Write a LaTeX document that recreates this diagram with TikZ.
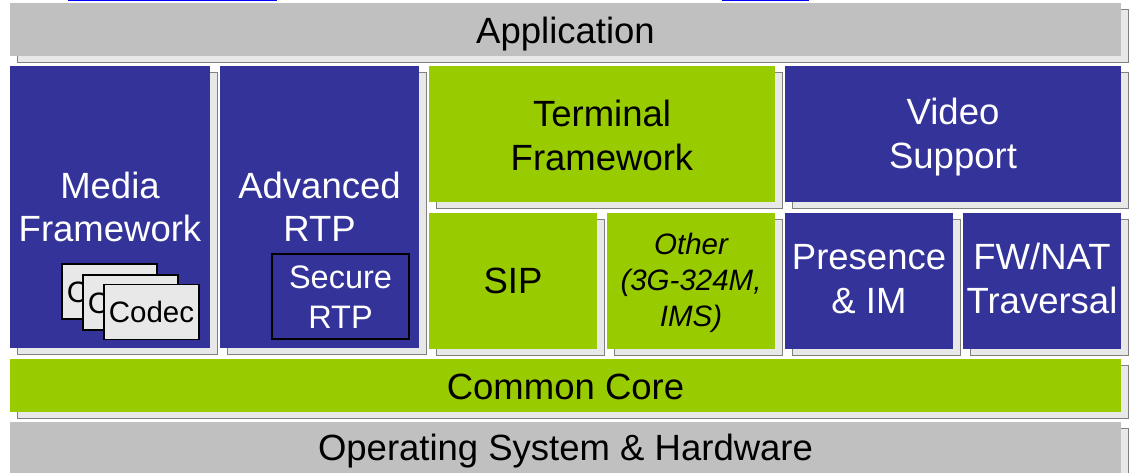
\documentclass[tikz,border=0pt]{standalone}
\usepackage{fontspec}
\setmainfont{Liberation Sans}
\definecolor{blu}{HTML}{333399}
\definecolor{grn}{HTML}{99CC00}
\definecolor{gry}{HTML}{C0C0C0}
\definecolor{shd}{HTML}{E8E8E8}
\definecolor{shl}{HTML}{808080}
\definecolor{lnk}{HTML}{0000FF}
% name, x1, y1, x2, y2, box style, last-line baseline, text
\newcommand\layerbox[8]{%
  \filldraw[fill=shd,draw=shl,line width=0.8pt] (#2+7,#3+6) rectangle (#4+7,#5+6);
  \node[#6, minimum width=#4-#2, minimum height=#5-#3] (#1) at ({(#2+#4)/2},{(#3+#5)/2}) {};
  \node[#6, lbl] (#1-t) at ({(#2+#4)/2},#7) {#8};
}
\tikzset{
  base/.style={rectangle, inner sep=0pt, outer sep=0pt, align=center},
  lbl/.style={fill=none, draw=none, minimum width=0pt, minimum height=0pt, anchor=base},
  bluebox/.style={base, fill=blu, text=white, font=\fontsize{36.5}{43.5}\selectfont},
  greenbox/.style={base, fill=grn, text=black, font=\fontsize{36.5}{43.5}\selectfont},
  graybox/.style={base, fill=gry, text=black, font=\fontsize{36.5}{43.5}\selectfont},
  codecbox/.style={base, draw=black, line width=1.2pt, fill=shd, text=black,
    minimum width=95, minimum height=55, font=\fontsize{29.5}{34}\selectfont},
  securebox/.style={base, draw=black, line width=1.2pt, fill=blu, text=white,
    minimum width=137, minimum height=85, font=\fontsize{32.5}{40}\selectfont},
}
\begin{document}
\begin{tikzpicture}[x=1pt,y=-1pt]
\useasboundingbox (0,0) rectangle (1129,472);
\clip (0,0) rectangle (1129,472);
\fill[white] (0,0) rectangle (1129,472);
\draw[lnk, line width=1.5pt] (68,0.7) -- (277,0.7);
\draw[lnk, line width=1.5pt] (722,0.7) -- (809,0.7);
\layerbox{app}{10}{3}{1121}{56}{graybox}{43.3}{Application}
\layerbox{media}{10}{66}{210}{348}{bluebox}{241.7}{Media\\Framework}
\layerbox{artp}{220}{66}{419}{348}{bluebox}{241.7}{Advanced\\RTP}
\layerbox{term}{429}{66}{775}{202}{greenbox}{170}{Terminal\\Framework}
\layerbox{video}{785}{66}{1121}{202}{bluebox}{168.3}{Video\\Support}
\layerbox{sip}{429}{213}{597}{349}{greenbox}{293.3}{SIP}
\layerbox{other}{607}{213}{775}{349}{greenbox, font=\fontsize{29.5}{36}\selectfont\itshape}{326.7}{Other\\(3G-324M,\\IMS)}
\layerbox{pres}{785}{213}{953}{349}{bluebox}{313.3}{Presence\\\&~IM}
\layerbox{fwnat}{963}{213}{1121}{349}{bluebox}{313.3}{FW/NAT\\Traversal}
\layerbox{core}{10}{359}{1121}{412}{greenbox}{399}{Common Core}
\layerbox{os}{10}{422}{1121}{480}{graybox}{460}{Operating System \& Hardware}
\node[codecbox] (c1) at (109.5,291.5) {Codec};
\node[codecbox] (c2) at (130.5,302.5) {Codec};
\node[codecbox] (c3) at (151.5,312) {Codec};
\node[securebox] (srtp) at (340.5,296.5) {};
\node[securebox, lbl] (srtp-t) at (340.5,328.3) {Secure\\RTP};
\end{tikzpicture}
\end{document}
